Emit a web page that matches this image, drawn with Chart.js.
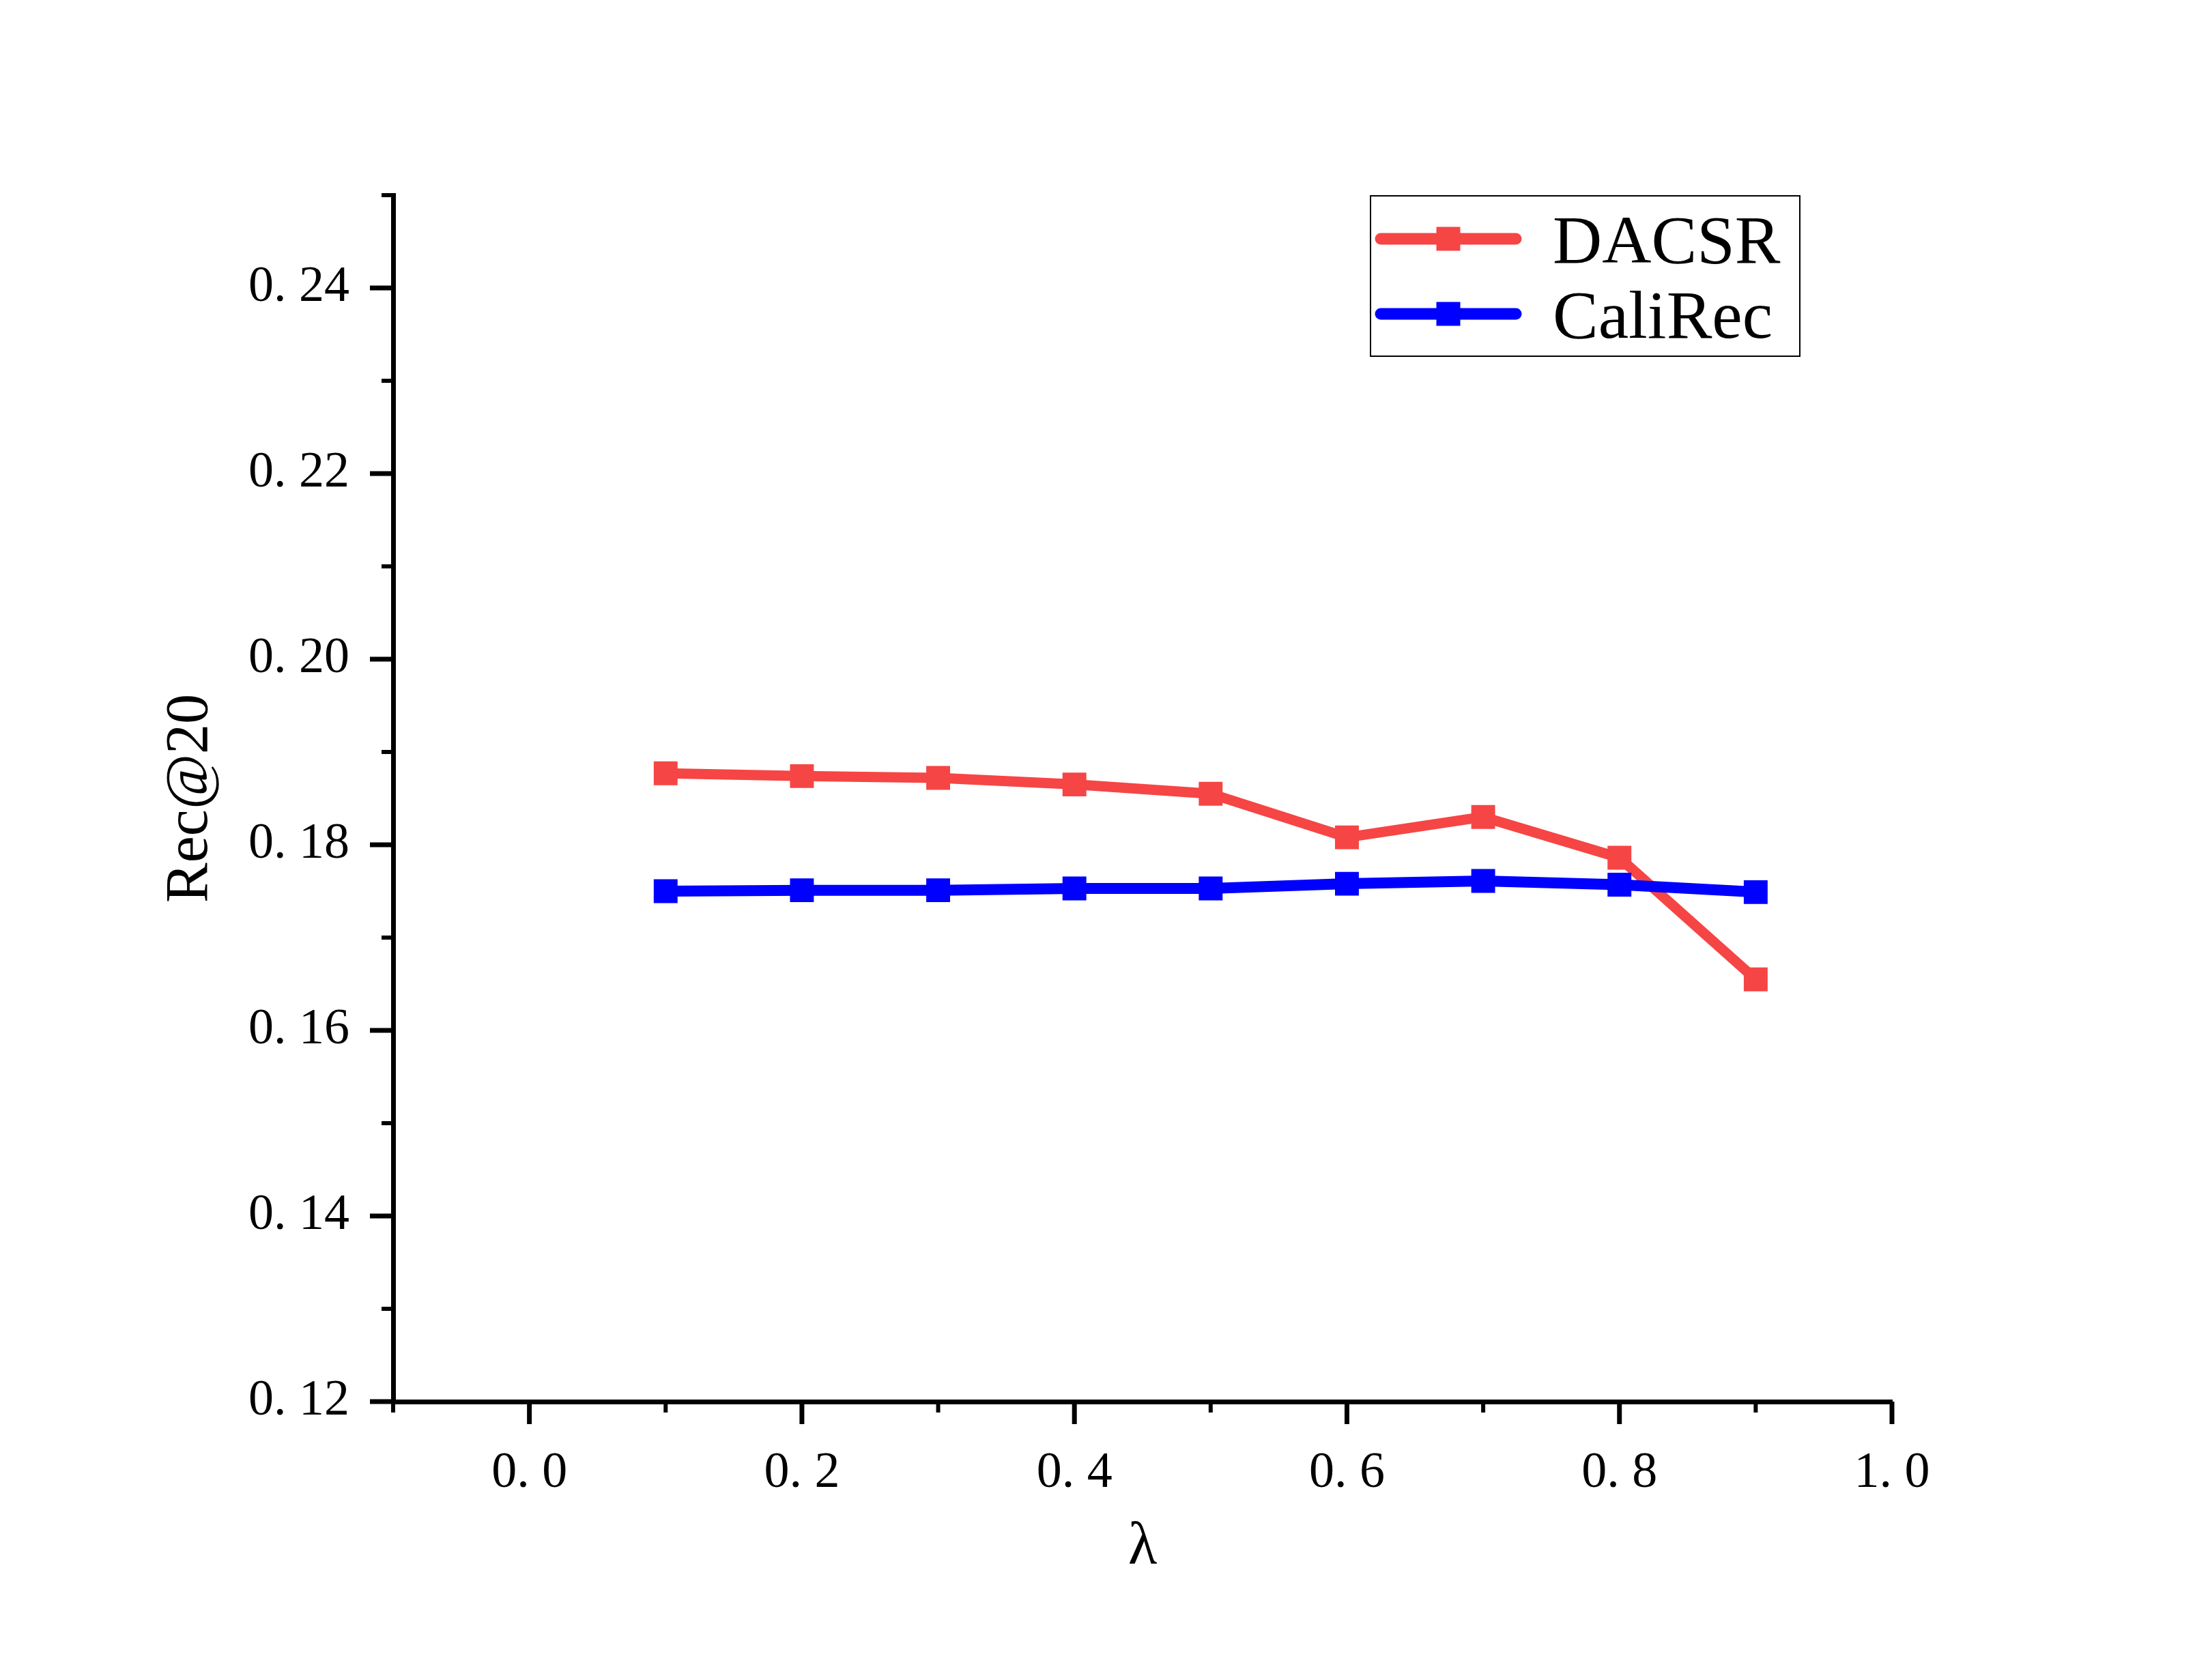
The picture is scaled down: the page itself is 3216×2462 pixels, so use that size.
<!DOCTYPE html>
<html>
<head>
<meta charset="utf-8">
<script src="https://cdn.jsdelivr.net/npm/chart.js@4"></script>
<style>
  html, body { margin: 0; padding: 0; background: #fff; overflow: hidden; }
  canvas { display: block; }
</style>
</head>
<body>
<canvas id="chart" width="3216" height="2462" style="width:3216px;height:2462px"></canvas>
<script>
// values
const lambdas = [0.1, 0.2, 0.3, 0.4, 0.5, 0.6, 0.7, 0.8, 0.9];
const dacsr = [0.1877, 0.1874, 0.1872, 0.1865, 0.1855, 0.1808, 0.1830, 0.1786, 0.1655];
const caliRec = [0.1750, 0.1751, 0.1751, 0.1753, 0.1753, 0.1758, 0.1761, 0.1757, 0.1749];
const seriesNames = ['DACSR', 'CaliRec'];

const RED = 'rgb(246, 69, 69)';
const BLUE = 'rgb(0, 0, 255)';

const toPoints = (ys) => lambdas.map((x, i) => ({ x: x, y: ys[i] }));

// Origin style ticks: long major, short minor, pointing outwards
const axisTicks = {
    id: 'axisTicks',
    afterDraw(chart) {
        const ctx = chart.ctx;
        const xs = chart.scales.x;
        const ys = chart.scales.y;
        const area = chart.chartArea;
        ctx.save();
        ctx.strokeStyle = '#000';
        ctx.lineCap = 'butt';
        for (let k = -1; k <= 10; k++) {
            const px = xs.getPixelForValue(k / 10);
            const major = k % 2 === 0;
            ctx.lineWidth = major ? 7 : 6;
            ctx.beginPath();
            ctx.moveTo(px, area.bottom);
            ctx.lineTo(px, area.bottom + (major ? 33 : 16));
            ctx.stroke();
        }
        for (let k = 12; k <= 25; k++) {
            const py = ys.getPixelForValue(k / 100);
            const major = k % 2 === 0;
            ctx.lineWidth = major ? 7 : 6;
            ctx.beginPath();
            ctx.moveTo(area.left, py);
            ctx.lineTo(area.left - (major ? 34 : 17), py);
            ctx.stroke();
        }
        ctx.restore();
    }
};

// legend drawn like the Origin one: line with a square marker in a framed box
const legendBox = {
    id: 'legendBox',
    afterDraw(chart) {
        const ctx = chart.ctx;
        ctx.save();
        ctx.strokeStyle = '#000';
        ctx.lineWidth = 2;
        ctx.strokeRect(2008, 287, 629, 235);
        chart.data.datasets.forEach((ds, i) => {
            const y = 350 + i * 110;
            ctx.strokeStyle = ds.borderColor;
            ctx.lineWidth = 17;
            ctx.lineCap = 'round';
            ctx.beginPath();
            ctx.moveTo(2023, y);
            ctx.lineTo(2221, y);
            ctx.stroke();
            ctx.fillStyle = ds.borderColor;
            ctx.fillRect(2122 - 17.5, y - 17.5, 35, 35);
            ctx.fillStyle = '#000';
            ctx.font = '100px "Liberation Serif"';
            ctx.textAlign = 'left';
            ctx.textBaseline = 'alphabetic';
            ctx.fillText(ds.label, 2275, y + 35);
        });
        ctx.restore();
    }
};

const tickFont = { family: '"Liberation Serif"', size: 74 };
const titleFont = { family: '"Liberation Serif"', size: 88 };

const ctx = document.getElementById('chart').getContext('2d');
new Chart(ctx, {
    type: 'line',
    data: {
        datasets: [
            {
                label: seriesNames[0],
                data: toPoints(dacsr),
                borderColor: RED,
                backgroundColor: RED,
                borderWidth: 15,
                pointStyle: 'rect',
                pointRadius: 24.7,
                pointBorderWidth: 0,
                pointBackgroundColor: RED,
                order: 1,
            },
            {
                label: seriesNames[1],
                data: toPoints(caliRec),
                borderColor: BLUE,
                backgroundColor: BLUE,
                borderWidth: 16,
                pointStyle: 'rect',
                pointRadius: 24.7,
                pointBorderWidth: 0,
                pointBackgroundColor: BLUE,
                order: 0,
            },
        ],
    },
    options: {
        responsive: false,
        animation: false,
        devicePixelRatio: 1,
        layout: {
            padding: { top: 286, right: 444, left: 0, bottom: 0 },
        },
        plugins: {
            legend: { display: false },
            tooltip: { enabled: false },
        },
        elements: {
            line: { tension: 0, fill: false },
        },
        scales: {
            x: {
                type: 'linear',
                min: -0.1,
                max: 1.0,
                afterFit: (scale) => { scale.height = 408; },
                grid: { display: false },
                border: { display: true, color: '#000', width: 7 },
                ticks: {
                    stepSize: 0.1,
                    autoSkip: false,
                    maxRotation: 0,
                    padding: 53,
                    color: '#000',
                    font: tickFont,
                    callback: (v) => {
                        const k = Math.round(v * 10);
                        if (k % 2 !== 0) return '';
                        return (k / 10).toFixed(1).replace('.', '. ');
                    },
                },
                title: {
                    display: true,
                    text: 'λ',
                    color: '#000',
                    font: titleFont,
                    padding: { top: 0, bottom: 140 },
                },
            },
            y: {
                type: 'linear',
                min: 0.12,
                max: 0.25,
                afterFit: (scale) => { scale.width = 576; },
                grid: { display: false },
                border: { display: true, color: '#000', width: 7 },
                ticks: {
                    stepSize: 0.01,
                    autoSkip: false,
                    padding: 56,
                    color: '#000',
                    font: tickFont,
                    callback: (v) => {
                        const k = Math.round(v * 100);
                        if (k % 2 !== 0 || k > 24) return '';
                        return (k / 100).toFixed(2).replace('.', '. ');
                    },
                },
                title: {
                    display: true,
                    text: 'Rec@20',
                    color: '#000',
                    font: titleFont,
                    padding: { top: 227, bottom: 0 },
                },
            },
        },
    },
    plugins: [axisTicks, legendBox],
});
</script>
</body>
</html>
